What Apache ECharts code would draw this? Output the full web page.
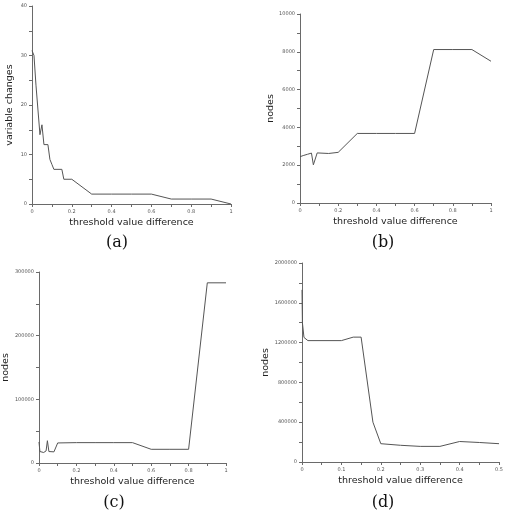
<!DOCTYPE html>
<html>
<head>
<meta charset="utf-8">
<script src="https://cdn.jsdelivr.net/npm/echarts@6/dist/echarts.min.js"></script>
<style>html,body{margin:0;padding:0;background:#fff}#c{width:506px;height:516px}</style>
</head>
<body>
<div id="c"></div>
<script>
// Panel (a): variable changes vs threshold value difference
var aX = [0, 0.01, 0.02, 0.03, 0.04, 0.05, 0.06, 0.07, 0.08, 0.09, 0.1, 0.11, 0.15, 0.16, 0.2, 0.3, 0.4, 0.5, 0.6, 0.7, 0.8, 0.9, 1];
var aY = [31, 30, 24, 24, 14, 16, 12, 12, 12, 9, 8, 7, 7, 5, 5, 2, 2, 2, 2, 1, 1, 1, 0];
// Panel (b): nodes
var bX = [0, 0.01, 0.02, 0.03, 0.04, 0.05, 0.06, 0.07, 0.08, 0.09, 0.1, 0.15, 0.2, 0.3, 0.4, 0.5, 0.6, 0.7, 0.8, 0.9, 1];
var bY = [2450, 2480, 2520, 2550, 2580, 2610, 2640, 2020, 2000, 2650, 2620, 2620, 2680, 3680, 3680, 3680, 3680, 8120, 8120, 8120, 7500];
// Panel (c): nodes
var cX = [0, 0.005, 0.015, 0.025, 0.038, 0.045, 0.053, 0.08, 0.09, 0.1, 0.2, 0.3, 0.4, 0.5, 0.6, 0.7, 0.8, 0.9, 1];
var cY = [33000, 18000, 19000, 16500, 19000, 35000, 18000, 17500, 15000, 31500, 32000, 32000, 32000, 32000, 21500, 21500, 21500, 283000, 283000];
// Panel (d): nodes
var dX = [0, 0.001, 0.005, 0.015, 0.1, 0.13, 0.15, 0.18, 0.2, 0.25, 0.3, 0.35, 0.4, 0.45, 0.5];
var dY = [1730000, 1400000, 1252000, 1220000, 1220000, 1255000, 1255000, 400000, 184000, 168000, 157000, 157000, 206000, 196000, 184000];

var xTitle = 'threshold value difference';
var yTitles = ['variable changes', 'nodes', 'nodes', 'nodes'];
var captions = ['(a)', '(b)', '(c)', '(d)'];
var xMax = [1, 1, 1, 0.5];
var xInt = [0.2, 0.2, 0.2, 0.1];
var yMax = [40, 10000, 300000, 2000000];
var yInt = [10, 2000, 100000, 400000];

function zip(xs, ys) { return xs.map(function (x, i) { return [x, ys[i]]; }); }
var seriesData = [zip(aX, aY), zip(bX, bY), zip(cX, cY), zip(dX, dY)];

var grids = [
  {left: 32, top: 6, width: 199, height: 198},
  {left: 300, top: 14, width: 191, height: 189},
  {left: 35, top: 272, width: 191, height: 191},
  {left: 302, top: 263, width: 199, height: 199}
];
var yGaps = [17, 20, 24, 31];
var capPos = [[117, 243], [383, 243], [114, 503], [383, 503]];

var axisLine = {lineStyle: {color: '#6a6a6a', width: 1}};
function plain(v) { return String(Math.round(v * 1000) / 1000); }
var tickLabel = {fontSize: 5, color: '#555', fontFamily: 'DejaVu Sans', formatter: plain};
var titleStyle = {fontSize: 9.5, color: '#222', fontFamily: 'DejaVu Sans'};

var option = {
  animation: false,
  backgroundColor: '#fff',
  grid: grids,
  xAxis: grids.map(function (g, i) {
    return {
      type: 'value', gridIndex: i, min: 0, max: xMax[i], interval: xInt[i],
      name: xTitle, nameLocation: 'middle', nameGap: 14,
      nameTextStyle: titleStyle,
      axisLine: axisLine,
      axisTick: {show: true, length: 3, lineStyle: {color: '#6a6a6a'}},
      minorTick: {show: true, splitNumber: 2, length: 3, lineStyle: {color: '#6a6a6a'}},
      axisLabel: Object.assign({margin: 5}, tickLabel),
      splitLine: {show: false}
    };
  }),
  yAxis: grids.map(function (g, i) {
    return {
      type: 'value', gridIndex: i, min: 0, max: yMax[i], interval: yInt[i],
      name: yTitles[i], nameLocation: 'middle', nameGap: yGaps[i],
      nameTextStyle: titleStyle,
      axisLine: Object.assign({show: true}, axisLine),
      axisTick: {show: true, length: 3, lineStyle: {color: '#6a6a6a'}},
      minorTick: {show: true, splitNumber: 2, length: 3, lineStyle: {color: '#6a6a6a'}},
      axisLabel: Object.assign({margin: 5}, tickLabel),
      splitLine: {show: false}
    };
  }),
  series: seriesData.map(function (d, i) {
    return {
      type: 'line', xAxisIndex: i, yAxisIndex: i, data: d,
      showSymbol: false, symbol: 'none',
      lineStyle: {color: '#555', width: 1}
    };
  }),
  graphic: captions.map(function (c, i) {
    return {
      type: 'text', x: capPos[i][0], y: capPos[i][1],
      style: {text: c, fontSize: 16, fontFamily: 'DejaVu Serif', fill: '#111',
        textAlign: 'center', textVerticalAlign: 'middle'}
    };
  })
};

var chart = echarts.init(document.getElementById('c'), null, {renderer: 'canvas'});
chart.setOption(option);
</script>
</body>
</html>
